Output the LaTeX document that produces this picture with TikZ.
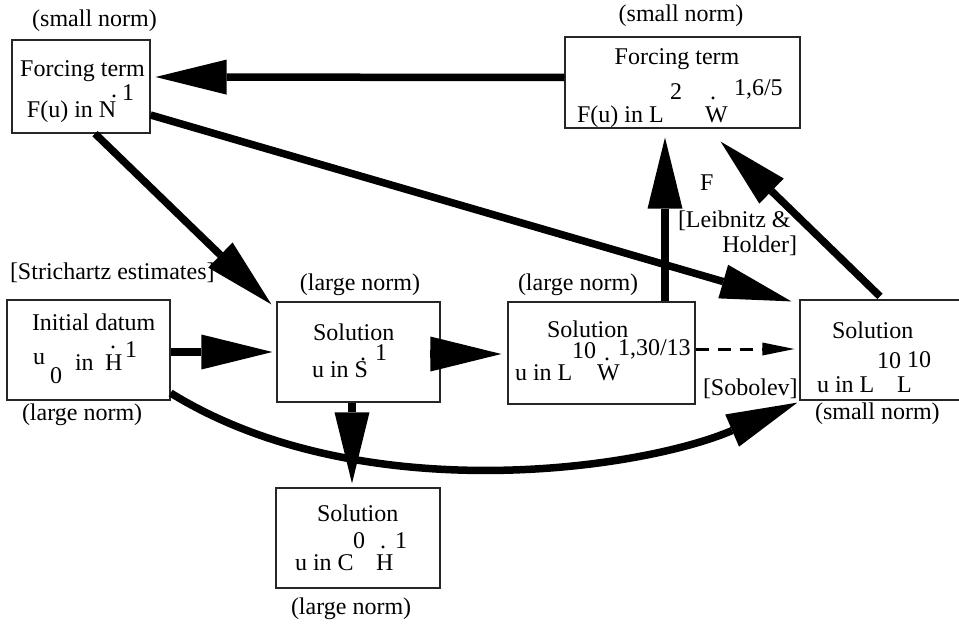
\documentclass[tikz,border=0pt]{standalone}
\usepackage{fontspec}
\setmainfont{Liberation Serif}
\usetikzlibrary{arrows.meta,calc}

\tikzset{
  box/.style={draw=black!85, line width=1.2pt, inner sep=0pt, rectangle},
  txt/.style={font=\fontsize{24}{28}\selectfont, inner sep=0pt, outer sep=0pt},
  lw/.style={txt, anchor=base west},
  lc/.style={txt, anchor=base},
  le/.style={txt, anchor=base east},
  dotm/.style={txt, anchor=base},
  big/.style={line width=7.5pt, -{Triangle[length=71pt,width=35pt,line width=0pt]}},
  dashedarrow/.style={line width=3pt, dash pattern=on 13pt off 9pt,
    -{Triangle[length=32pt,width=13pt,line width=0pt]}}
}

\begin{document}
\begin{tikzpicture}[x=1pt,y=-1pt]
\useasboundingbox (0,0) rectangle (959,629);

% boxes
\node[box, minimum width=138pt, minimum height=93pt]  (A) at (81,86.5) {};
\node[box, minimum width=235pt, minimum height=91pt]  (B) at (682.5,82.5) {};
\node[box, minimum width=163pt, minimum height=100pt] (C) at (88.5,350) {};
\node[box, minimum width=163pt, minimum height=100pt] (D) at (358.5,352) {};
\node[box, minimum width=187pt, minimum height=102pt] (E) at (601.5,353) {};
\node[box, minimum width=165pt, minimum height=100pt] (F) at (882.5,350) {};
\node[box, minimum width=164pt, minimum height=100pt] (G) at (358,538) {};

% forcing term, dual Strichartz space
\node[lc] (a1) at (82.5,76) {Forcing term};
\node[lw] (a2) at (27,117) {F(u) in N};
\node[dotm] (a3) at (114,97) {.};
\node[lw] (a4) at (122,100) {1};

% forcing term, Lebesgue-Sobolev space
\node[lc] (b1) at (677,64) {Forcing term};
\node[lw] (b2) at (577,122) {F(u) in L};
\node[lw] (b3) at (670,99) {2};
\node[lw] (b4) at (705,122) {W};
\node[dotm] (b5) at (713,99) {.};
\node[lw] (b6) at (734,95) {1,6/5};

% initial datum
\node[lw] (c1) at (32,330) {Initial datum};
\node[lw] (c2) at (33,364) {u};
\node[lw] (c3) at (50,383) {0};
\node[lw] (c4) at (75,370) {in};
\node[lw] (c5) at (105,370) {H};
\node[dotm] (c6) at (113,348) {.};
\node[lw] (c7) at (125,357) {1};

% solution in S^1
\node[lw] (d1) at (313,340) {Solution};
\node[lw] (d2) at (312,377) {u in S};
\node[dotm] (d3) at (363,360) {.};
\node[lw] (d4) at (375,360) {1};

% solution in L^10 W
\node[lw] (e1) at (547,337) {Solution};
\node[lw] (e2) at (572,358) {10};
\node[dotm] (e3) at (607,360) {.};
\node[lw] (e4) at (618,355) {1,30/13};
\node[lw] (e5) at (515,380) {u in L};
\node[lw] (e6) at (597,380) {W};

% solution in L^10 L^10
\node[lw] (f1) at (832,338) {Solution};
\node[lw] (f2) at (877,368) {10};
\node[lw] (f3) at (907,367) {10};
\node[lw] (f4) at (817,392) {u in L};
\node[lw] (f5) at (897,392) {L};

% solution in C^0 H^1
\node[lw] (g1) at (317,521) {Solution};
\node[lw] (g2) at (353,548) {0};
\node[dotm] (g3) at (383,548) {.};
\node[lw] (g4) at (395,548) {1};
\node[lw] (g5) at (295,570) {u in C};
\node[lw] (g6) at (376,570) {H};

% norm annotations and estimate labels
\node[lc] (n1) at (94.5,27) {(small norm)};
\node[lc] (n2) at (681,21) {(small norm)};
\node[lc] (n3) at (360,290) {(large norm)};
\node[lw] (n4) at (518,290) {(large norm)};
\node[lw] (n5) at (22,420) {(large norm)};
\node[lw] (n6) at (815,419) {(small norm)};
\node[lw] (n7) at (291,614) {(large norm)};
\node[lw] (s1) at (10,279) {[Strichartz estimates]};
\node[lw] (s2) at (703,395) {[Sobolev]};
\node[lw] (s3) at (700,190) {F};
\node[lw] (s4) at (678,227) {[Leibnitz \&};
\node[le] (s5) at (797,252) {Holder]};

% connectors
\draw[big] ([yshift=5pt]B.west) -- ([xshift=5pt,yshift=9.5pt]A.east);
\draw[big] ([yshift=-28.5pt]A.east) -- ([xshift=-8pt,yshift=-2pt]F.north west);
\draw[big] ([xshift=14pt]A.south) -- ([xshift=-5pt,yshift=-3pt]D.north west);
\draw[big] ([yshift=-2pt]C.east) -- ([xshift=-4pt]D.west);
\draw[big] ([yshift=-2pt]D.east) -- ([xshift=-6pt,yshift=-1pt]E.west);
\draw[dashedarrow] ([yshift=4pt]E.east) -- ([xshift=-5pt,yshift=1pt]F.west);
\draw[big] ([xshift=63.5pt]E.north) -- ([xshift=-17.5pt,yshift=-9pt]B.south);
\draw[big] ([xshift=-2.5pt,yshift=3pt]F.north) -- ([xshift=-80pt,yshift=-13pt]B.south east);
\draw[big] ([xshift=-6.5pt]D.south) -- ([xshift=-6pt,yshift=4pt]G.north);
\draw[big] ([yshift=-43pt]C.east) .. controls (360,510) and (640,470) .. ([xshift=-2pt,yshift=-2pt]F.south west);
\end{tikzpicture}
\end{document}
